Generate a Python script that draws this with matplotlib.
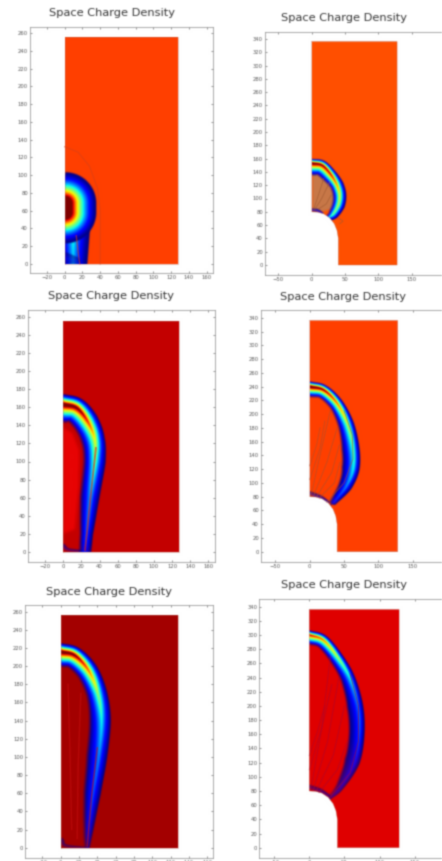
import numpy as np
import matplotlib
matplotlib.use("Agg")
import matplotlib.pyplot as plt
from matplotlib.path import Path
from matplotlib.patches import Polygon
from matplotlib.colors import to_rgb

W, H = 442, 861
TITLE = "Space Charge Density"

# simulation domains
plain_x = [0, 128, 128, 0]
plain_y = [0, 0, 256, 256]
needle_x = [0, 128, 128, 40, 40, 38, 34, 27, 18, 9, 0]
needle_y = [336, 336, 0, 0, 40, 52, 62, 71, 77, 79.5, 80]

# ionisation fronts: crest line, jet value on the crest,
# distance from crest to the outer and inner edge of the band
f1a_x = [9, 9]
f1a_y = [40, 0]
f1a_peak = [0.42, 0.3]
f1a_out = [20, 17]
f1a_in = [20, 17]
f1b_x = [0, 0]
f1b_y = [68, 58]
f1b_peak = [1.5, 1.5]
f1b_out = [36, 36]
f1b_in = [36, 36]
f1c_x = [0, 12]
f1c_y = [6, 3]
f1c_peak = [0.08, 0.06]
f1c_out = [8, 6]
f1c_in = [8, 6]

f2_x = [0, 15, 28, 37, 41, 39, 31, 22]
f2_y = [153, 150, 136, 120, 105, 90, 76, 70]
f2_peak = [1.15, 1.05, 0.95, 0.78, 0.65, 0.6, 0.5, 0.25]
f2_out = [7, 8, 9, 11, 11, 11, 9, 5]
f2_in = [20, 19, 16, 12, 12, 11, 9, 5]
tip2_x = [0, 8, 15]
tip2_y = [82, 81, 77]
tip2_peak = [0.1, 0.13, 0.16]
tip2_out = [4, 4, 3]
tip2_in = [4, 4, 3]

f3_x = [0, 15, 27, 35, 35, 30, 26, 24]
f3_y = [164, 160, 145, 125, 100, 60, 20, 0]
f3_peak = [1.2, 1.1, 0.9, 0.66, 0.5, 0.3, 0.22, 0.16]
f3_out = [12, 12, 13, 12, 13, 11, 8, 8]
f3_in = [22, 20, 18, 17, 14, 13, 9, 8]
foot3_x = [0, 6, 22]
foot3_y = [6, 2, 0]
foot3_peak = [0.07, 0.07, 0.07]
foot3_out = [4, 3, 3]
foot3_in = [4, 3, 3]

f4_x = [0, 20, 40, 55, 63, 63, 53, 35]
f4_y = [240, 235, 215, 185, 150, 120, 95, 72]
f4_peak = [1.2, 1.05, 0.82, 0.6, 0.46, 0.38, 0.26, 0.16]
f4_out = [8, 8, 9, 10, 10, 10, 9, 5]
f4_in = [17, 15, 14, 16, 19, 19, 14, 8]
tip4_x = [0, 15, 25]
tip4_y = [84, 78, 72]
tip4_peak = [0.08, 0.1, 0.12]
tip4_out = [5, 5, 4]
tip4_in = [4, 4, 3]

f5_x = [0, 15, 30, 40, 44, 41, 35, 30, 29]
f5_y = [216, 212, 195, 170, 140, 100, 60, 20, 0]
f5_peak = [1.2, 1.08, 0.82, 0.55, 0.38, 0.26, 0.2, 0.15, 0.08]
f5_out = [10, 10, 11, 11, 11, 10, 9, 6, 3]
f5_in = [18, 17, 15, 14, 15, 15, 12, 7, 5]
foot5_x = [0, 5, 26]
foot5_y = [8, 2, 0]
foot5_peak = [0.05, 0.05, 0.05]
foot5_out = [4, 3, 2]
foot5_in = [4, 3, 2]

f6_x = [0, 20, 40, 58, 70, 72, 65, 45, 30]
f6_y = [300, 293, 270, 240, 200, 160, 120, 85, 70]
f6_peak = [0.98, 0.82, 0.6, 0.38, 0.24, 0.2, 0.15, 0.1, 0.07]
f6_out = [7, 8, 8, 8, 8, 8, 8, 5, 3]
f6_in = [15, 14, 14, 15, 18, 17, 17, 9, 5]
tip6_x = [0, 15, 27]
tip6_y = [85, 80, 73]
tip6_peak = [0.05, 0.07, 0.08]
tip6_out = [5, 5, 4]
tip6_in = [4, 4, 3]

# interiors behind the fronts
hole2_x = [0, 15, 28, 34, 30, 15, 0]
hole2_y = [140, 134, 118, 100, 84, 80, 82]
hole3_x = [0, 10, 18, 17, 13, 0]
hole3_y = [138, 132, 112, 70, 25, 20]

# thin streamer traces
trace1_x = [[0, 15, 28, 37, 40, 40], [13, 15, 17]]
trace1_y = [[132, 126, 110, 85, 60, 0], [32, 15, 0]]
trace2_x = [[5, 15, 27], [10, 22, 29], [3, 10, 18], [42, 47, 41]]
trace2_y = [[84, 100, 125], [84, 92, 105], [84, 105, 130], [62, 66, 70]]
trace3_x = [[36, 30, 26, 24]]
trace3_y = [[115, 60, 20, 2]]
trace4_x = [[2, 15, 30], [6, 25, 40], [10, 32, 43], [14, 36, 44], [0, 15, 22], [0, 10, 15], [25, 50, 63, 62, 50]]
trace4_y = [[82, 140, 205], [82, 130, 180], [80, 115, 155], [78, 100, 130], [105, 150, 190], [125, 155, 180], [72, 100, 135, 170, 205]]
trace5_x = [[40, 34, 29], [22, 19, 18], [8, 10, 12]]
trace5_y = [[110, 60, 2], [170, 90, 10], [180, 110, 20]]
trace6_x = [[2, 18, 30], [6, 26, 42], [10, 34, 50], [14, 40, 54], [0, 18, 32], [0, 12, 22], [30, 58, 70, 70, 58]]
trace6_y = [[82, 170, 270], [82, 150, 240], [80, 130, 200], [78, 110, 150], [110, 170, 230], [130, 165, 200], [72, 105, 150, 200, 245]]

PANELS = [
    dict(box=(30, 27, 213, 273), org=(64.7, 264), scale=(0.8875, 0.888), title=(111.7, 13.3),
         bg="#ff4000", dom=(plain_x, plain_y),
         fronts=[(f1a_x, f1a_y, f1a_peak, f1a_out, f1a_in), (f1c_x, f1c_y, f1c_peak, f1c_out, f1c_in),
                 (f1b_x, f1b_y, f1b_peak, f1b_out, f1b_in)],
         trace=(trace1_x, trace1_y), tc="#d84018", tw=0.9, hole=None, xt=np.arange(-20, 161, 20), yt=np.arange(0, 261, 20)),
    dict(box=(265, 31.7, 447, 275), org=(311.7, 265), scale=(0.667, 0.665), title=(344, 18),
         bg="#ff5000", dom=(needle_x, needle_y),
         fronts=[(tip2_x, tip2_y, tip2_peak, tip2_out, tip2_in), (f2_x, f2_y, f2_peak, f2_out, f2_in)],
         trace=(trace2_x, trace2_y), tc="#a05830", tw=0.7, hole=(hole2_x, hole2_y, "#c87848"),
         xt=np.arange(-50, 151, 50), yt=np.arange(0, 341, 20)),
    dict(box=(28, 310, 215, 561.7), org=(63.3, 551.7), scale=(0.906, 0.902), title=(110.7, 296),
         bg="#c40000", dom=(plain_x, plain_y),
         fronts=[(foot3_x, foot3_y, foot3_peak, foot3_out, foot3_in), (f3_x, f3_y, f3_peak, f3_out, f3_in)],
         trace=(trace3_x, trace3_y), tc="#e01818", tw=1.3, hole=(hole3_x, hole3_y, "#e80404"),
         xt=np.arange(-20, 161, 20), yt=np.arange(0, 261, 20)),
    dict(box=(261, 310, 447, 562.3), org=(309.7, 551.7), scale=(0.687, 0.688), title=(343, 297),
         bg="#ff4000", dom=(needle_x, needle_y),
         fronts=[(tip4_x, tip4_y, tip4_peak, tip4_out, tip4_in), (f4_x, f4_y, f4_peak, f4_out, f4_in)],
         trace=(trace4_x, trace4_y), tc="#a85030", tw=0.7, hole=None, xt=np.arange(-50, 151, 50), yt=np.arange(0, 341, 20)),
    dict(box=(25.3, 605, 213.3, 857.7), org=(60.7, 847.7), scale=(0.916, 0.908), title=(109, 591.7),
         bg="#a40000", dom=(plain_x, plain_y),
         fronts=[(foot5_x, foot5_y, foot5_peak, foot5_out, foot5_in), (f5_x, f5_y, f5_peak, f5_out, f5_in)],
         trace=(trace5_x, trace5_y), tc="#c41010", tw=1.0, hole=None, xt=np.arange(-20, 161, 20), yt=np.arange(0, 261, 20)),
    dict(box=(259.3, 598.7, 447, 857.7), org=(309.3, 847.7), scale=(0.703, 0.709), title=(343.7, 585),
         bg="#e00000", dom=(needle_x, needle_y),
         fronts=[(tip6_x, tip6_y, tip6_peak, tip6_out, tip6_in), (f6_x, f6_y, f6_peak, f6_out, f6_in)],
         trace=(trace6_x, trace6_y), tc="#a80830", tw=0.7, hole=None, xt=np.arange(-50, 151, 50), yt=np.arange(0, 341, 20)),
]


def soften(img, dpi, sigma=0.7):
    # the source picture is a blurry scan, so take the edge off the drawing
    pad = 3
    k = np.exp(-0.5 * (np.arange(-pad, pad + 1) / sigma) ** 2)
    k /= k.sum()
    out = np.zeros((img.shape[0] + 2 * pad, img.shape[1] + 2 * pad, 4))
    out[pad:-pad, pad:-pad] = img
    out[..., :3] *= out[..., 3:]
    for axis in (0, 1):
        out = sum(w * np.roll(out, i - pad, axis=axis) for i, w in enumerate(k))
    a = np.clip(out[..., 3:], 1e-4, 1)
    out[..., :3] = np.clip(out[..., :3] / a, 0, 1)
    return out, -pad, -pad


def smooth_crest(front, steps=10):
    # catmull-rom through the read samples so the band has no corners
    cx, cy, peak, w_out, w_in = [np.asarray(v, float) for v in front]
    pts = np.column_stack([cx, cy])
    ext = np.vstack([2 * pts[0] - pts[1], pts, 2 * pts[-1] - pts[-2]])
    curve = []
    for i in range(1, len(ext) - 2):
        p0, p1, p2, p3 = ext[i - 1], ext[i], ext[i + 1], ext[i + 2]
        for s in np.linspace(0, 1, steps, endpoint=False):
            curve.append(0.5 * (2 * p1 + (p2 - p0) * s + (2 * p0 - 5 * p1 + 4 * p2 - p3) * s ** 2
                                + (3 * p1 - p0 - 3 * p2 + p3) * s ** 3))
    curve.append(pts[-1])
    curve = np.array(curve)
    pos = np.linspace(0, len(cx) - 1, len(curve))
    idx = np.arange(len(cx))
    return curve[:, 0], curve[:, 1], np.interp(pos, idx, peak), np.interp(pos, idx, w_out), np.interp(pos, idx, w_in)


def band_layer(xx, yy, front):
    # value and cover of one front on the grid
    cx, cy, peak, w_out, w_in = smooth_crest(front)
    best = np.full(xx.shape, np.inf)
    val = np.zeros(xx.shape)
    cover = np.zeros(xx.shape)
    for i in range(len(cx) - 1):
        tx, ty = cx[i + 1] - cx[i], cy[i + 1] - cy[i]
        px, py = xx - cx[i], yy - cy[i]
        s = np.clip((px * tx + py * ty) / (tx * tx + ty * ty), 0, 1)
        d = np.hypot(px - s * tx, py - s * ty)
        side = tx * py - ty * px
        wo = w_out[i] + s * (w_out[i + 1] - w_out[i])
        wi = w_in[i] + s * (w_in[i + 1] - w_in[i])
        w = np.where(side > 0, wo, wi)
        pk = peak[i] + s * (peak[i + 1] - peak[i])
        u = np.clip(d / w, 0, 1)
        near = d < best
        best = np.where(near, d, best)
        val = np.where(near, np.clip(pk * (1 - u) ** 1.7, 0, 1), val)
        ramp = np.where(side > 0, 2.0, 4.5)
        fade = np.clip(pk / 0.3 + 0.35, 0, 1)
        cover = np.where(near, np.clip((1 - u) * w / ramp, 0, 1) * fade, cover)
    return val, cover


def soft_mask(mask, n=9):
    # box blur so an interior fades out instead of ending on a hard edge
    m = mask.astype(float)
    k = np.ones(n) / n
    for axis in (0, 1):
        m = np.apply_along_axis(lambda v: np.convolve(v, k, mode="same"), axis, m)
    return m


fig = plt.figure(figsize=(W / 100, H / 100), dpi=100)
jet = plt.get_cmap("jet")

for p in PANELS:
    l, t, r, b = p["box"]
    ax = fig.add_axes([l / W, 1 - b / H, (r - l) / W, (b - t) / H])
    x0, y0 = p["org"]
    sx, sy = p["scale"]

    dom_x, dom_y = p["dom"]
    top = max(dom_y)
    xs = np.arange(0, 128.5, 0.5)
    ys = np.arange(0, top + 0.5, 0.5)
    xx, yy = np.meshgrid(xs, ys)
    rgb = np.ones(xx.shape + (3,)) * to_rgb(p["bg"])
    if p["hole"] is not None:
        hx, hy, hc = p["hole"]
        inside = Path(np.column_stack([hx, hy])).contains_points(
            np.column_stack([xx.ravel(), yy.ravel()])).reshape(xx.shape)
        m = soft_mask(inside)[..., None]
        rgb = rgb * (1 - m) + np.array(to_rgb(hc)) * m
    for front in p["fronts"]:
        val, cover = band_layer(xx, yy, front)
        rgb = rgb * (1 - cover[..., None]) + jet(val)[..., :3] * cover[..., None]
    img = ax.imshow(rgb, extent=(0, 128, 0, top), origin="lower", aspect="auto",
                    interpolation="bilinear", zorder=2)
    outline = Polygon(np.column_stack([dom_x, dom_y]), closed=True, transform=ax.transData, fc="none", ec="none")
    ax.add_patch(outline)
    img.set_clip_path(outline)

    tx, ty = p["trace"]
    for lx, ly in zip(tx, ty):
        ax.plot(lx, ly, color=p["tc"], lw=p["tw"], alpha=0.6, zorder=4)

    ax.plot(list(dom_x) + [dom_x[0]], list(dom_y) + [dom_y[0]], color="#b06050", lw=0.4, alpha=0.6, zorder=5)

    ax.set_xlim((l - x0) / sx, (r - x0) / sx)
    ax.set_ylim((y0 - b) / sy, (y0 - t) / sy)
    ax.set_xticks(p["xt"])
    ax.set_yticks(p["yt"])
    ax.tick_params(direction="in", top=True, right=True, length=1.5, width=0.4, labelsize=3.8,
                   labelcolor="#555555", color="#444444", pad=1.5)
    for s in ax.spines.values():
        s.set_linewidth(0.5)
        s.set_color("#888888")
    cx, cy = p["title"]
    ax.set_title(TITLE, x=(cx - l) / (r - l), y=(b - cy) / (b - t), va="center", pad=0, fontsize=8.2, color="#333333")
    ax.set_agg_filter(soften)

fig.savefig("out.png", dpi=100)
